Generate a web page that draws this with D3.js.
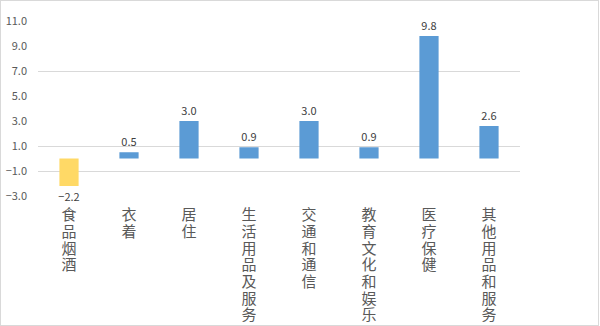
<!DOCTYPE html>
<html>
<head>
<meta charset="utf-8">
<script src="https://cdn.jsdelivr.net/npm/d3@7"></script>
<style>
body{margin:0;background:#fff;}
text{font-family:"Noto Sans CJK SC","DejaVu Sans",sans-serif;}
</style>
</head>
<body>
<div id="chart"></div>
<script>
var categories = ["食品烟酒","衣着","居住","生活用品及服务","交通和通信","教育文化和娱乐","医疗保健","其他用品和服务"];
var values = [-2.2,0.5,3.0,0.9,3.0,0.9,9.8,2.6];
var yTicks = [11,9,7,5,3,1,-1,-3];
var gridTicks = [7,1,-1];

var width=600;
var height=326;

var svg = d3.select("#chart")
    .append("svg")
    .attr("width",width)
    .attr("height",height);

// outer border
svg.append("rect")
    .attr("x",0.5).attr("y",0.5)
    .attr("width",width-2).attr("height",height-1)
    .attr("fill","#fff")
    .attr("stroke","#d9d9d9");

var xScale = d3.scaleBand()
    .domain(categories)
    .range([39,519])
    .paddingInner(0.68)
    .paddingOuter(0.34);

var yScale = d3.scaleLinear()
    .domain([-3,11])
    .range([196,21]);

// grid
svg.append("g")
    .selectAll("line")
    .data(gridTicks)
    .enter()
    .append("line")
    .attr("x1",38)
    .attr("x2",520)
    .attr("y1",function(d){return yScale(d)+0.5;})
    .attr("y2",function(d){return yScale(d)+0.5;})
    .attr("stroke","#d9d9d9")
    .attr("stroke-width",1);

// y axis labels
var yAxis = d3.axisLeft(yScale)
    .tickValues(yTicks)
    .tickSize(0)
    .tickPadding(0)
    .tickFormat(d3.format(".1f"));
var gy = svg.append("g")
    .attr("transform","translate(27,0)")
    .call(yAxis);
gy.select(".domain").remove();
gy.selectAll("text")
    .attr("font-size",11)
    .attr("fill","#595959")
    .style("font-family","'Noto Sans CJK SC',sans-serif");

// bars
svg.selectAll("rect.bar")
    .data(values)
    .enter()
    .append("rect")
    .attr("class","bar")
    .attr("x",function(d,i){return xScale(categories[i]);})
    .attr("y",function(d){return yScale(Math.max(d,0));})
    .attr("width",xScale.bandwidth())
    .attr("height",function(d){return Math.abs(yScale(d)-yScale(0));})
    .attr("fill",function(d){return d<0?"#ffd966":"#5b9bd5";});

// value labels
svg.selectAll("text.val")
    .data(values)
    .enter()
    .append("text")
    .attr("class","val")
    .attr("text-anchor","middle")
    .attr("font-size",11)
    .attr("fill","#404040")
    .attr("x",function(d,i){return xScale(categories[i])+xScale.bandwidth()/2;})
    .attr("y",function(d){return d<0?yScale(d)+15:yScale(d)-6;})
    .text(function(d){return d3.format(".1f")(d);});

// vertical category labels
svg.selectAll("text.cat")
    .data(categories)
    .enter()
    .append("text")
    .attr("class","cat")
    .attr("x",function(d){return xScale(d)+xScale.bandwidth()/2;})
    .attr("y",207)
    .attr("font-size",15)
    .attr("fill","#595959")
    .style("writing-mode","vertical-rl")
    .style("letter-spacing","1.7px")
    .text(function(d){return d;});
</script>
</body>
</html>
